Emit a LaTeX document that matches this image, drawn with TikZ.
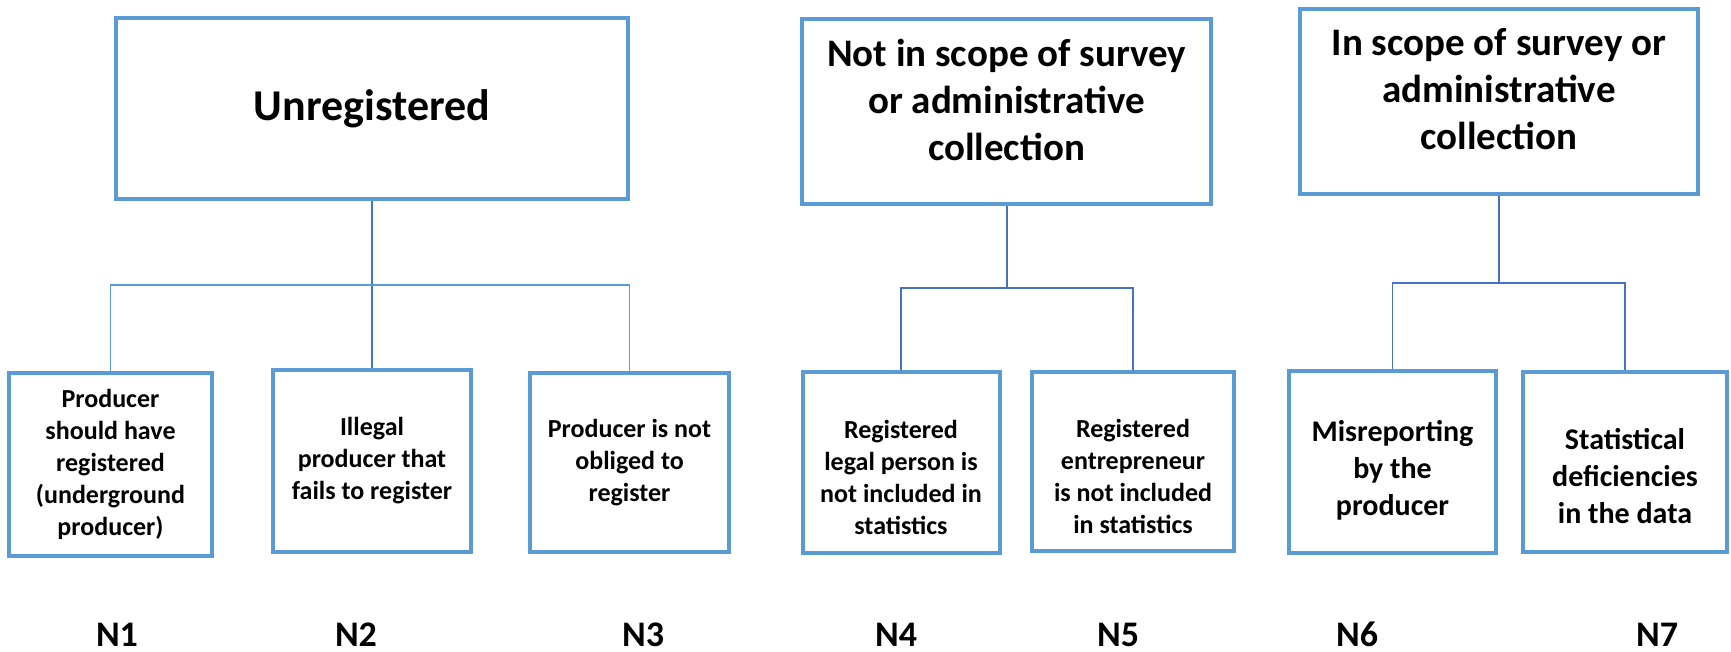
\documentclass[tikz,border=0pt]{standalone}
\usepackage{fontspec}
\setmainfont{Carlito}
\usepackage{tikz}
\definecolor{boxblue}{RGB}{91,155,213}
\definecolor{linkblue}{RGB}{68,114,196}

\begin{document}
\begin{tikzpicture}[
    x=1pt, y=-1pt,
    box/.style={draw=boxblue, line width=4pt, fill=white, align=center, inner sep=0pt},
    topbox/.style={box, font=\fontsize{39}{47}\selectfont\bfseries},
    leaf/.style={box, font=\fontsize{26}{32}\selectfont\bfseries},
    bigleaf/.style={box, font=\fontsize{30}{37}\selectfont\bfseries},
    tag/.style={anchor=base, inner sep=0pt, font=\fontsize{36}{36}\selectfont\bfseries},
    trunk/.style={draw=linkblue, line width=2pt},
    branch/.style={draw=linkblue, line width=1.5pt},
    lightbranch/.style={draw=boxblue, line width=1.5pt}
]
\useasboundingbox (0,0) rectangle (1731,652);

% top level
\node[topbox, font=\fontsize{44}{53}\selectfont\bfseries, minimum width=512pt, minimum height=181pt] (unreg) at (372,108.5) {Unregistered};
\node[topbox, minimum width=409pt, minimum height=185pt] (outscope) at (1006.5,111.5) {Not in scope of survey\\or administrative\\collection\rule[-24pt]{0pt}{24pt}};
\node[topbox, minimum width=398pt, minimum height=185pt] (inscope) at (1499,101.5) {In scope of survey or\\administrative\\collection\rule[-26pt]{0pt}{26pt}};

% bottom level
\node[leaf, minimum width=203pt, minimum height=183pt] (n1) at (110.5,464.5) {Producer\\should have\\registered\\(underground\\producer)};
\node[leaf, minimum width=198pt, minimum height=182pt] (n2) at (372,461) {Illegal\\producer that\\fails to register};
\node[leaf, minimum width=199pt, minimum height=179pt] (n3) at (629.5,462.5) {Producer is not\\obliged to\\register};
\node[leaf, minimum width=197pt, minimum height=181pt] (n4) at (901,462.5) {\rule{0pt}{48pt}Registered\\legal person is\\not included in\\statistics};
\node[leaf, minimum width=202pt, minimum height=179pt] (n5) at (1133,461.5) {\rule{0pt}{48pt}Registered\\entrepreneur\\is not included\\in statistics};
\node[bigleaf, minimum width=207pt, minimum height=182pt] (n6) at (1392.5,462) {\rule{0pt}{37pt}Misreporting\\by the\\producer};
\node[bigleaf, minimum width=204pt, minimum height=180pt] (n7) at (1625,462) {\rule{0pt}{49pt}Statistical\\deficiencies\\in the data};

\node[tag] (t1) at (117,646) {N1};
\node[tag] (t2) at (356,646) {N2};
\node[tag] (t3) at (643,646) {N3};
\node[tag] (t4) at (896,646) {N4};
\node[tag] (t5) at (1118,646) {N5};
\node[tag] (t6) at (1357,646) {N6};
\node[tag] (t7) at (1657,646) {N7};

% connectors
\coordinate (j1) at (372,285);
\coordinate (j2) at (1006.5,288);
\coordinate (j3) at (1499,283);

\draw[trunk] (unreg.south) -- (n2.north);
\draw[lightbranch] (n1.north) |- (j1) -| (n3.north);

\draw[trunk] (outscope.south) -- (j2);
\draw[branch] (n4.north) |- (j2) -| (n5.north);

\draw[trunk] (inscope.south) -- (j3);
\draw[branch] (n6.north) |- (j3) -| (n7.north);

\end{tikzpicture}
\end{document}
